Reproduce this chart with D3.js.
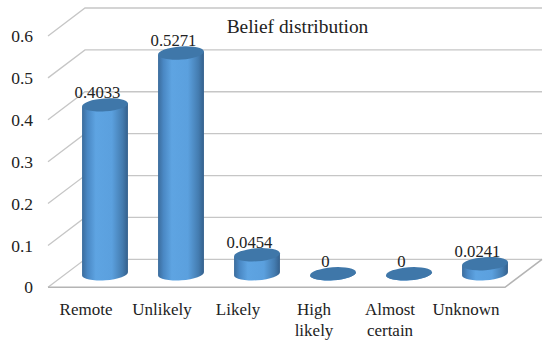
<!DOCTYPE html>
<html>
<head>
<meta charset="utf-8">
<script src="https://cdn.jsdelivr.net/npm/d3@7/dist/d3.min.js"></script>
<style>
html,body{margin:0;padding:0;background:#fff;}
text{font-family:"Liberation Serif",serif;fill:#222;}
</style>
</head>
<body>
<script>
const svg_width = 550,svg_height = 345;
var categories = ["Remote","Unlikely","Likely","High likely","Almost certain","Unknown"];
var beliefValues = [0.4033,0.5271,0.0454,0,0,0.0241];
var valueLabels = ["0.4033","0.5271","0.0454","0","0","0.0241"];
var yTicks = [0,0.1,0.2,0.3,0.4,0.5,0.6];

var depth_x = 37, depth_y = 28;
var front_left = 48, front_right = 505, front_zero = 287.3, front_top = 36;
var rx = 23, ry = 6.5, tilt = -4;

var svgContainer = d3.select("body")
.append("svg")
.attr("width",svg_width)
.attr("height",svg_height)
.style("display","block");

var xScale = d3.scaleBand().domain(categories).range([front_left,front_left+456]);
var yScale = d3.scaleLinear().domain([0,0.6]).range([front_zero,front_top]);

//cylinder side shading
var defs = svgContainer.append("defs");
var grad = defs.append("linearGradient").attr("id","side").attr("x1","0").attr("x2","1").attr("y1","0").attr("y2","0");
grad.append("stop").attr("offset","0").attr("stop-color","#3b6c9c");
grad.append("stop").attr("offset","0.12").attr("stop-color","#4a88c4");
grad.append("stop").attr("offset","0.3").attr("stop-color","#5ea4e2");
grad.append("stop").attr("offset","0.65").attr("stop-color","#5ba0de");
grad.append("stop").attr("offset","0.88").attr("stop-color","#447cb0");
grad.append("stop").attr("offset","1").attr("stop-color","#34608c");

//walls and floor
var wall = svgContainer.append("g").attr("fill","none").attr("stroke","#c6c6c6").attr("stroke-width",1.3);
wall.selectAll("path.grid")
.data(yTicks)
.enter()
.append("path")
.attr("class","grid")
.attr("d",function(d){
	var y = yScale(d);
	return "M"+front_left+","+y+"L"+(front_left+depth_x)+","+(y-depth_y)+"L"+(front_right+depth_x)+","+(y-depth_y);
});
wall.append("path")
.attr("d","M"+front_left+","+front_zero+"L"+front_right+","+front_zero+"L"+(front_right+depth_x)+","+(front_zero-depth_y))
.attr("stroke","#b4b4b4")
.attr("stroke-width",1.6);

//cylinders
var a = tilt*Math.PI/180;
var dx = rx*Math.cos(a), dy = rx*Math.sin(a);
function cx(d){return xScale(d)+xScale.bandwidth()/2+19;}
function topY(v){return yScale(v)-depth_y+14.5;}
var bars = svgContainer.append("g").selectAll("g")
.data(categories)
.enter()
.append("g");
bars.append("path")
.attr("d",function(d,i){
	var c = cx(d), t = topY(beliefValues[i]), b = topY(0);
	return "M"+(c-dx)+","+(t-dy)+"L"+(c-dx)+","+(b-dy)
	+"A"+rx+","+ry+" "+tilt+" 0 0 "+(c+dx)+","+(b+dy)
	+"L"+(c+dx)+","+(t+dy)+"Z";
})
.attr("fill","url(#side)");
bars.append("ellipse")
.attr("rx",rx)
.attr("ry",ry)
.attr("transform",function(d,i){return "translate("+cx(d)+","+topY(beliefValues[i])+") rotate("+tilt+")";})
.attr("fill","#3f77a9");

//value labels
bars.append("text")
.attr("x",function(d){return cx(d)-7.5;})
.attr("y",function(d,i){return topY(beliefValues[i])-13;})
.attr("dy","0.35em")
.attr("text-anchor","middle")
.attr("font-size",16.7)
.text(function(d,i){return valueLabels[i];});

//y axis
var yAxis = d3.axisLeft(yScale).tickValues(yTicks).tickSize(0).tickPadding(0).tickFormat(function(d){return d;});
var yGroup = svgContainer.append("g").attr("transform","translate(33,0)").call(yAxis);
yGroup.select(".domain").remove();
yGroup.selectAll("text").attr("font-size",17.5).style("fill","#222");
yGroup.attr("font-family",null);

//category labels, wrapped like the original
var xAxis = d3.axisBottom(xScale).tickSize(0).tickPadding(0);
var xGroup = svgContainer.append("g").attr("transform","translate(0,301)").call(xAxis);
xGroup.select(".domain").remove();
xGroup.attr("font-family",null);
xGroup.selectAll("text").each(function(d){
	var words = d.split(" ");
	var el = d3.select(this).text(null).attr("font-size",17).attr("y",0).attr("dy",null).style("fill","#222");
	words.forEach(function(w,i){
		el.append("tspan").attr("x",0).attr("y",14+i*21).text(w);
	});
});

svgContainer.append("text")
.attr("x",297.5)
.attr("y",33)
.attr("text-anchor","middle")
.attr("font-size",19.4)
.text("Belief distribution");
</script>
</body>
</html>
